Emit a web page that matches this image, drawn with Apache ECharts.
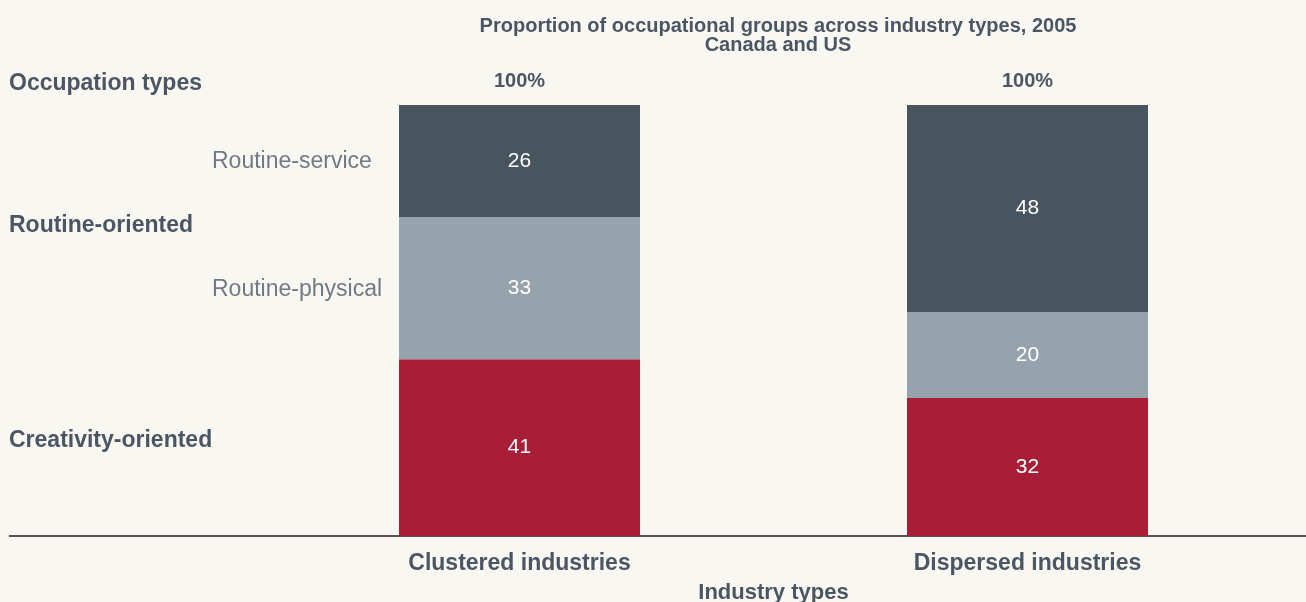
<!DOCTYPE html>
<html>
<head>
<meta charset="utf-8">
<script src="https://cdn.jsdelivr.net/npm/echarts@6/dist/echarts.min.js"></script>
<style>
  html, body { margin: 0; padding: 0; background: #f9f7f2; }
  #chart { width: 1306px; height: 602px; }
</style>
</head>
<body>
<div id="chart"></div>
<script>
// data
const categories = ['Clustered industries', 'Dispersed industries']
const topLabels = ['100%', '100%']
const creativity = [41, 32]
const routinePhysical = [33, 20]
const routineService = [26, 48]

// colours
const textColor = '#4a5663'
const lightText = '#6f7a84'
const redColor = '#a91e37'
const greyColor = '#97a3ac'
const darkColor = '#48555f'
const fontFamily = '"Liberation Sans", Arial, Helvetica, sans-serif'

const chart = echarts.init(document.getElementById('chart'))

function barSeries(name, data, color) {
  return {
    name: name,
    type: 'bar',
    stack: 'total',
    data: data,
    barWidth: 241,
    itemStyle: { color: color },
    label: {
      show: true,
      position: 'inside',
      color: '#ffffff',
      fontSize: 21,
      fontFamily: fontFamily
    },
    emphasis: { disabled: true }
  }
}

chart.setOption({
  backgroundColor: '#f9f7f2',
  animation: false,
  title: {
    text: 'Proportion of occupational groups across industry types, 2005\nCanada and US',
    left: 773,
    textAlign: 'center',
    top: 12,
    textStyle: {
      color: textColor,
      fontSize: 20,
      fontWeight: 'bold',
      lineHeight: 19,
      fontFamily: fontFamily
    }
  },
  grid: {
    left: 265.5,
    right: 24.5,
    top: 105,
    bottom: 66,
    containLabel: false,
    outerBoundsMode: 'none'
  },
  xAxis: [{
    type: 'category',
    data: categories,
    position: 'bottom',
    axisLine: { show: false },
    axisTick: { show: false },
    axisLabel: {
      color: textColor,
      fontSize: 23,
      fontWeight: 'bold',
      margin: 16,
      fontFamily: fontFamily
    },
    name: 'Industry types',
    nameLocation: 'middle',
    nameGap: 46,
    nameTextStyle: {
      color: textColor,
      fontSize: 22,
      fontWeight: 'bold',
      fontFamily: fontFamily
    }
  }, {
    type: 'category',
    data: topLabels,
    position: 'top',
    axisLine: { show: false },
    axisTick: { show: false },
    axisLabel: {
      color: textColor,
      fontSize: 20,
      fontWeight: 'bold',
      margin: 14,
      fontFamily: fontFamily
    }
  }],
  yAxis: {
    type: 'value',
    min: 0,
    max: 100,
    show: false
  },
  series: [
    barSeries('Creativity-oriented', creativity, redColor),
    barSeries('Routine-physical', routinePhysical, greyColor),
    barSeries('Routine-service', routineService, darkColor)
  ],
  graphic: [
    {
      type: 'line',
      shape: { x1: 9, y1: 536, x2: 1306, y2: 536 },
      style: { stroke: '#1e1e1e', lineWidth: 1.5 }
    },
    {
      type: 'text', left: 9, top: 72,
      style: { text: 'Occupation types', fill: textColor, fontSize: 23, fontWeight: 'bold', fontFamily: fontFamily }
    },
    {
      type: 'text', left: 9, top: 214,
      style: { text: 'Routine-oriented', fill: textColor, fontSize: 23, fontWeight: 'bold', fontFamily: fontFamily }
    },
    {
      type: 'text', left: 9, top: 429,
      style: { text: 'Creativity-oriented', fill: textColor, fontSize: 23, fontWeight: 'bold', fontFamily: fontFamily }
    },
    {
      type: 'text', left: 212, top: 150,
      style: { text: 'Routine-service', fill: lightText, fontSize: 23, fontFamily: fontFamily }
    },
    {
      type: 'text', left: 212, top: 278,
      style: { text: 'Routine-physical', fill: lightText, fontSize: 23, fontFamily: fontFamily }
    }
  ]
})
</script>
</body>
</html>
